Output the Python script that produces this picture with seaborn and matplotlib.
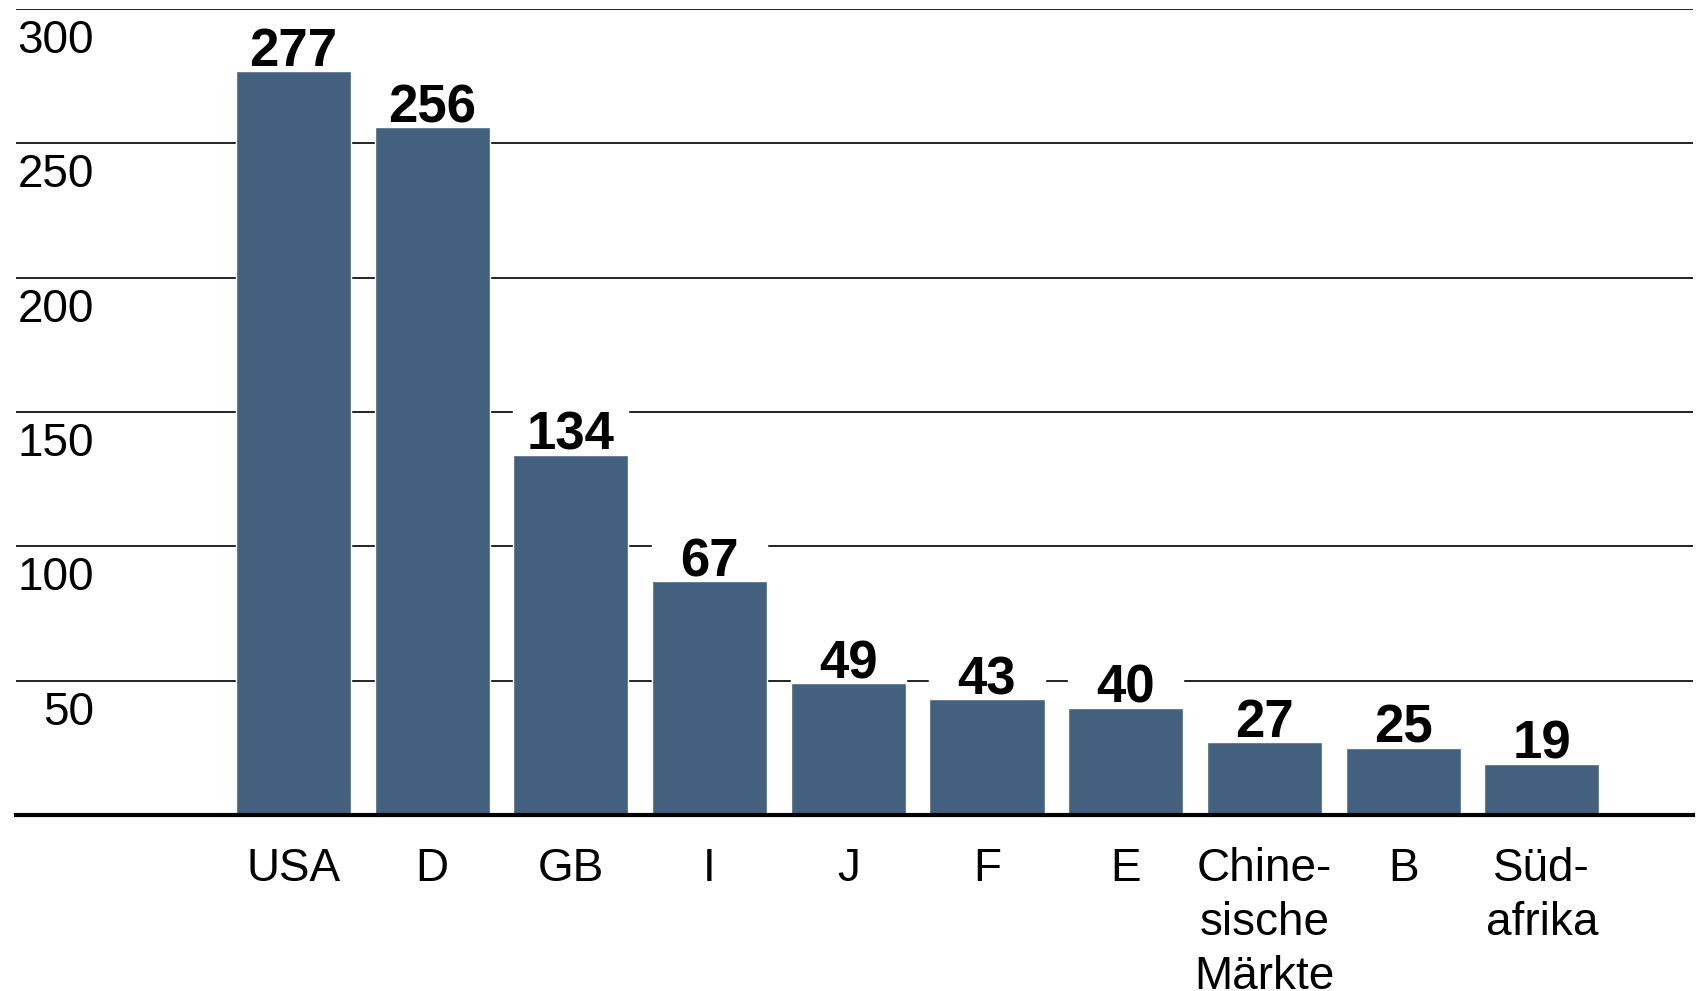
import matplotlib
matplotlib.use("Agg")
import matplotlib.pyplot as plt
import matplotlib.transforms as mtransforms
import seaborn as sns
import pandas as pd

countries = ["USA", "D", "GB", "I", "J", "F", "E", "Chine-\nsische\nMärkte", "B", "Süd-\nafrika"]
# bar heights as drawn in the picture (the "I" bar sits at ~87 although its label reads 67)
values = [277, 256, 134, 87, 49, 43, 40, 27, 25, 19]
value_labels = ["277", "256", "134", "67", "49", "43", "40", "27", "25", "19"]
y_ticks = [50, 100, 150, 200, 250, 300]

bar_color = "#43607e"

sns.set_theme(style="white")
plt.rcParams["font.family"] = ["Liberation Sans", "DejaVu Sans"]

df = pd.DataFrame({"country": countries, "value": values})

fig = plt.figure(figsize=(16.97, 9.91), dpi=100)
ax = fig.add_axes([16 / 1697, 176 / 991, 1677 / 1697, 806 / 991])

ax.set_axisbelow(True)
for t in y_ticks:
    ax.axhline(t, color="#111111", lw=1.3, zorder=0.5)

sns.barplot(data=df, x="country", y="value", color=bar_color, saturation=1,
            width=0.83, ax=ax, zorder=2)

# white patches behind the value labels, they break the gridlines
ax.bar(range(len(values)), [17] * len(values), bottom=values, width=0.83,
       color="white", zorder=1)

for i, (v, lab) in enumerate(zip(values, value_labels)):
    ax.annotate(lab, xy=(i, v), xytext=(0, 5), textcoords="offset pixels",
                ha="center", va="baseline", fontsize=38, fontweight="bold",
                color="black", zorder=3)

trans = mtransforms.blended_transform_factory(ax.transAxes, ax.transData)
for t in y_ticks:
    ax.annotate(str(t), xy=(0.0465, t), xycoords=trans, xytext=(0, -44),
                textcoords="offset pixels", ha="right", va="baseline",
                fontsize=33, color="black")

ax.set_ylim(0, 300)
ax.set_xlim(-2.0, 10.09)
ax.set_yticks([])
ax.set_xlabel("")
ax.set_ylabel("")
ax.tick_params(axis="x", length=0, pad=23, labelsize=33, colors="black")
for lab in ax.get_xticklabels():
    lab.set_linespacing(1.3)

for s in ["top", "left", "right"]:
    ax.spines[s].set_visible(False)
ax.spines["bottom"].set_color("black")
ax.spines["bottom"].set_linewidth(3)
ax.spines["bottom"].set_zorder(4)

fig.savefig("out.png", dpi=100, facecolor="white")
